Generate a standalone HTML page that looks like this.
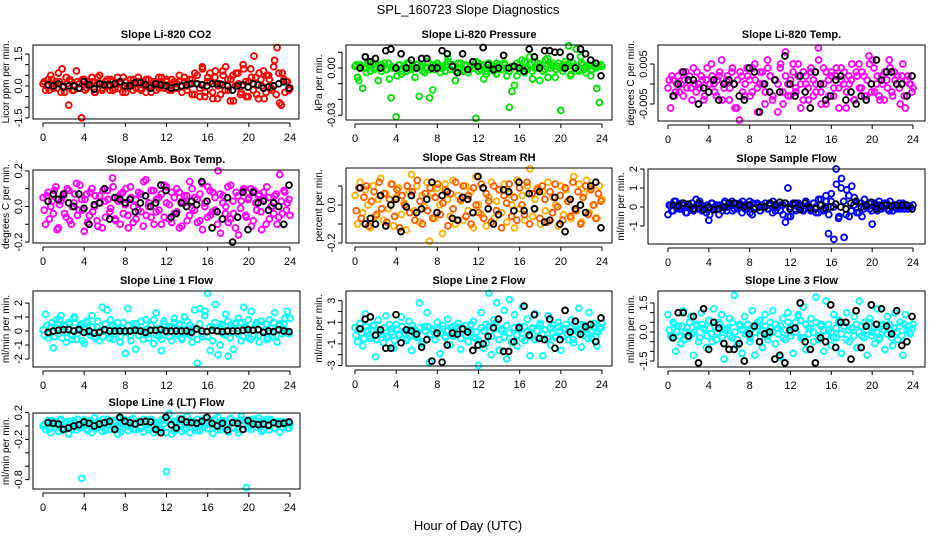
<!DOCTYPE html>
<html><head><meta charset="utf-8"><style>
html,body{margin:0;padding:0;background:#fff;}
svg{display:block;font-family:"Liberation Sans",sans-serif;}
</style></head><body>
<svg id="chart" width="936" height="540" viewBox="0 0 936 540" xmlns="http://www.w3.org/2000/svg">
<text x="468" y="14" text-anchor="middle" font-size="13">SPL_160723  Slope Diagnostics</text>
<text x="468" y="530" text-anchor="middle" font-size="13">Hour of Day (UTC)</text>
</svg>
<script>
// Panel data: A and B = coloured samples (two interleaved passes), K = black samples
const p1A=[0.1,-0.2,0.3,0.5,-0.1,0.2,0.6,-0.3,0.0,0.4,-0.9,0.2,-0.2,0.7,0.1,-1.5,0.3,-0.1,0.2,0.4,-0.3,0.1,0.5,-0.2,0.0,0.3,-0.2,0.2,-0.1,0.4,0.1,-0.3,0.2,0.0,0.3,-0.2,0.1,0.4,-0.1,0.2,-0.3,0.3,0.0,0.1,-0.2,0.4,0.2,-0.1,0.3,0.0,-0.2,0.2,0.1,0.5,-0.3,0.2,0.0,0.3,-0.4,0.6,0.1,-0.5,0.8,-0.3,0.4,0.2,-0.6,0.7,0.0,-0.4,0.5,0.9,-0.2,0.3,-0.7,0.6,0.1,-0.3,0.8,-0.5,0.2,0.4,1.4,-0.4,0.6,0.0,-0.6,0.5,0.3,-0.2,1.2,1.8,-0.8,0.6,-0.3,0.2,-0.1];
const p1B=[0.2,0.0,-0.2,0.3,0.1,-0.1,0.2,0.8,-0.3,0.1,0.3,-0.2,0.0,0.2,-0.1,0.3,-0.2,0.1,0.0,0.2,-0.3,0.4,0.1,-0.1,0.2,0.0,0.3,-0.2,0.1,-0.1,0.2,0.4,-0.3,0.0,0.1,0.3,-0.1,0.2,-0.2,0.1,0.3,0.0,-0.3,0.2,0.1,-0.1,0.4,0.0,0.2,-0.2,0.3,0.1,-0.1,0.2,0.0,0.4,-0.2,0.1,0.3,-0.4,0.5,-0.1,0.9,-0.5,0.2,0.6,-0.3,0.4,-0.6,0.1,0.7,-0.2,0.3,-0.7,0.5,0.0,0.6,-0.4,1.0,0.2,-0.5,0.8,-0.2,0.4,-0.6,0.3,0.7,-0.3,0.5,-0.1,0.9,-0.4,0.6,-0.9,0.3,0.2,-0.2];
const p1K=[0.05,0.0,0.1,-0.05,0.0,0.0,-0.1,0.2,0.05,-0.15,0.1,0.05,0.05,0.1,0.2,0.0,0.0,0.15,0.15,0.05,-0.1,0.1,0.05,0.0,-0.1,-0.05,0.0,0.05,0.1,0.1,0.05,0.0,0.1,0.1,0.05,0.0,-0.2,0.0,0.05,-0.05,0.1,0.05,-0.1,-0.05,0.0,0.1,0.2,-0.1];
const p2A=[0.001,-0.006,0.002,-0.013,0.0,0.004,-0.002,0.003,0.0,-0.008,0.002,0.001,-0.001,0.003,-0.019,0.0,-0.031,0.002,-0.004,0.001,-0.002,0.003,-0.001,0.0,0.002,-0.018,0.001,-0.003,0.0,-0.019,0.002,-0.001,0.003,0.0,0.001,-0.002,0.004,-0.001,0.002,-0.008,0.0,0.003,-0.002,0.001,-0.001,0.002,0.0,-0.032,0.003,-0.001,0.002,-0.004,0.0,0.001,-0.002,0.003,0.0,-0.001,0.002,-0.005,-0.025,-0.015,0.001,0.003,-0.002,0.0,0.004,-0.001,0.002,-0.007,0.0,0.003,0.001,-0.002,0.005,-0.006,0.002,0.001,-0.001,0.003,-0.027,0.0,0.002,0.014,-0.004,0.001,0.012,-0.002,0.003,-0.001,0.0,0.002,-0.001,0.001,-0.013,-0.022,0.001];
const p2B=[0.002,-0.008,0.001,0.0,-0.003,0.002,0.004,-0.001,0.0,0.002,-0.002,0.003,-0.001,-0.007,0.001,0.0,-0.005,0.002,-0.002,0.001,0.003,-0.001,0.0,-0.006,0.002,0.001,-0.002,0.0,0.004,-0.001,-0.014,0.002,0.001,-0.003,0.0,0.002,0.006,-0.001,0.001,-0.002,0.003,0.0,-0.001,0.002,-0.003,0.001,0.0,0.004,-0.002,0.001,-0.007,-0.002,0.003,0.0,0.001,-0.004,0.002,-0.001,0.003,0.0,-0.002,0.001,-0.011,-0.005,0.002,0.005,-0.003,0.001,0.007,-0.002,0.004,0.0,-0.008,0.002,-0.001,0.006,0.0,0.003,-0.006,0.001,0.010,-0.002,0.004,0.001,-0.005,0.003,0.0,-0.001,0.007,0.002,-0.003,0.001,-0.005,0.002,0.0,0.001,0.002];
const p2K=[0.0,0.007,0.004,0.006,0.0,0.011,0.012,0.0,0.009,0.0,0.005,0.0,0.006,0.006,0.0,0.0,0.011,0.009,0.001,-0.003,0.009,-0.001,0.004,0.001,0.013,0.002,-0.001,0.0,0.008,0.0,0.001,0.0,-0.002,0.012,0.007,0.0,0.011,0.011,0.01,0.01,0.0,0.007,0.0,0.012,0.009,0.005,0.003,-0.005];
const p3A=[-0.001,-0.006,0.001,-0.002,0.002,0.0,-0.003,0.003,0.001,-0.001,0.004,-0.002,0.0,0.002,-0.004,0.001,-0.002,0.005,0.0,-0.003,0.002,0.006,-0.001,0.001,-0.004,0.003,0.0,-0.006,-0.009,0.002,-0.003,0.004,0.001,-0.002,0.005,-0.001,0.0,0.003,-0.005,0.006,0.002,-0.004,0.001,-0.007,0.004,-0.002,0.008,0.0,-0.003,0.005,-0.001,0.002,-0.006,0.003,0.0,-0.004,0.004,0.001,-0.002,0.006,-0.005,0.0,0.003,-0.003,0.002,-0.001,0.004,-0.006,0.001,0.003,-0.002,0.0,0.005,-0.004,0.002,-0.001,0.003,-0.003,0.001,0.005,0.006,-0.002,0.002,-0.004,0.0,0.003,-0.001,0.004,-0.003,0.001,0.002,-0.005,0.005,-0.006,0.002,0.0,-0.001];
const p3B=[0.001,0.002,-0.003,0.0,-0.002,0.003,0.001,-0.001,0.002,-0.004,0.0,0.003,-0.001,0.001,-0.003,0.004,0.0,0.002,-0.002,0.001,0.003,-0.004,0.0,0.002,-0.001,0.004,-0.006,0.001,0.003,-0.002,0.0,0.002,-0.003,0.004,0.001,-0.007,0.003,0.0,-0.002,0.004,0.002,-0.003,0.001,0.0,0.005,-0.005,0.002,-0.003,0.001,0.003,-0.002,0.005,0.0,-0.004,0.002,-0.001,0.003,-0.003,0.0,0.009,-0.002,0.004,-0.005,0.001,0.003,-0.003,0.002,-0.001,0.004,0.0,-0.006,0.002,0.001,-0.004,0.003,0.005,-0.001,0.002,-0.003,0.007,-0.002,0.004,0.0,-0.003,0.002,-0.004,0.001,0.006,-0.002,0.003,0.0,-0.001,0.002,-0.003,0.001,0.0,-0.002];
const p3K=[-0.003,0.0,0.003,0.001,0.001,-0.005,-0.001,-0.002,0.001,-0.004,0.0,0.001,0.0,-0.003,-0.004,0.004,0.003,-0.007,0.0,-0.002,0.001,-0.002,0.007,0.0,-0.003,0.002,-0.002,-0.006,0.003,0.0,-0.004,-0.003,0.001,0.002,-0.004,-0.002,-0.005,-0.003,-0.004,0.0,0.006,0.001,0.003,0.003,0.0,0.0,-0.003,0.002];
const p4A=[0.05,-0.1,0.08,0.0,-0.04,0.11,-0.12,0.03,0.06,-0.06,0.09,-0.1,0.02,0.13,-0.02,0.04,-0.14,0.07,-0.05,0.1,0.0,-0.08,0.06,-0.12,0.03,0.09,-0.03,0.16,-0.07,0.05,-0.1,0.08,0.01,-0.05,0.11,-0.09,0.04,-0.02,0.07,-0.11,0.15,0.0,-0.06,0.09,-0.03,0.05,-0.1,0.12,0.02,-0.07,0.08,-0.04,0.1,-0.12,0.03,0.06,-0.08,0.14,-0.01,0.05,-0.09,0.07,-0.13,0.02,0.11,-0.05,0.08,-0.02,0.2,-0.15,0.06,0.0,-0.09,0.12,-0.04,0.08,-0.16,0.03,0.1,-0.06,0.05,-0.11,0.09,-0.02,0.07,-0.13,0.04,0.11,-0.07,0.0,0.06,-0.1,0.18,-0.04,0.08,0.02,-0.05];
const p4B=[-0.02,0.06,-0.07,0.03,0.09,-0.13,0.01,0.05,-0.04,0.1,-0.08,0.0,0.07,-0.05,0.12,-0.02,0.04,-0.09,0.08,-0.03,0.06,-0.11,0.02,0.09,-0.06,0.04,-0.01,0.11,-0.08,0.03,0.07,-0.04,0.1,-0.12,0.05,0.0,-0.07,0.08,-0.03,0.14,-0.05,0.02,0.09,-0.1,0.04,-0.02,0.07,-0.06,0.11,0.01,-0.09,0.05,-0.03,0.08,-0.11,0.02,0.06,-0.05,0.1,-0.02,0.04,-0.08,0.13,0.0,-0.06,0.09,-0.03,0.05,-0.1,0.07,0.02,-0.04,0.11,-0.07,0.03,-0.12,0.06,-0.01,0.09,-0.05,0.04,0.1,-0.08,0.02,0.06,-0.03,0.08,-0.1,0.05,0.0,-0.04,0.07,-0.06,0.03,0.09,-0.02,0.04];
const p4K=[0.03,0.07,0.04,0.07,0.02,0.0,0.07,-0.01,-0.1,0.01,0.02,0.1,-0.07,0.05,0.04,0.02,0.04,-0.03,0.02,0.06,0.0,0.02,0.12,0.09,-0.06,-0.04,0.02,0.0,0.03,0.01,0.14,0.03,-0.12,-0.03,-0.07,0.05,-0.2,-0.06,0.08,-0.13,0.08,0.02,0.03,-0.02,0.02,0.0,-0.1,0.12];
const p5A=[0.05,-0.1,0.12,-0.04,0.08,0.0,-0.12,0.1,-0.06,0.03,0.14,-0.08,0.06,-0.02,0.11,-0.11,0.04,0.09,-0.05,0.01,-0.13,0.07,0.16,-0.03,0.1,-0.09,0.05,-0.01,0.12,-0.19,0.06,-0.07,0.09,0.0,-0.15,0.11,0.03,-0.06,0.13,-0.1,0.05,0.02,-0.08,0.1,-0.03,0.07,-0.12,0.15,0.0,-0.05,0.09,-0.11,0.04,0.12,-0.07,0.02,0.08,-0.04,0.11,-0.09,0.06,0.0,-0.12,0.13,-0.02,0.05,-0.08,0.1,0.19,-0.06,0.03,0.09,-0.1,0.07,-0.03,0.12,-0.08,0.04,0.0,-0.11,0.1,-0.05,0.08,0.02,-0.07,0.15,-0.03,0.11,-0.09,0.06,0.13,-0.04,0.09,0.0,-0.07,0.1,0.03];
const p5B=[-0.03,0.09,-0.07,0.04,0.1,-0.11,0.02,0.07,-0.05,0.12,-0.02,0.06,-0.09,0.03,0.11,-0.06,0.08,-0.12,0.05,0.0,0.1,-0.04,0.07,-0.08,0.13,0.02,-0.1,0.06,-0.03,0.09,-0.07,0.04,0.11,-0.05,0.01,0.08,-0.11,0.06,-0.02,0.12,-0.08,0.03,0.1,-0.06,0.05,-0.1,0.09,0.0,-0.04,0.11,-0.07,0.06,0.02,-0.09,0.1,-0.03,0.08,-0.12,0.05,0.01,0.11,-0.06,0.04,-0.08,0.09,0.0,-0.05,0.12,-0.1,0.06,-0.02,0.08,-0.07,0.1,0.03,-0.09,0.07,-0.04,0.11,-0.01,0.05,-0.08,0.09,0.02,-0.06,0.12,-0.03,0.07,-0.1,0.04,0.1,-0.05,0.08,0.0,-0.07,0.06,0.02];
const p5K=[0.09,-0.1,-0.07,-0.1,0.05,-0.11,0.0,0.03,-0.14,-0.01,0.05,-0.04,-0.02,0.03,0.12,-0.04,0.05,0.07,-0.07,-0.08,0.04,0.03,-0.04,0.15,0.09,-0.02,-0.1,-0.05,0.08,0.07,-0.03,0.12,-0.03,0.06,-0.02,0.07,-0.09,-0.08,0.04,-0.1,-0.14,0.03,-0.02,0.0,-0.04,0.1,0.12,-0.12];
const p6A=[-0.4,0.1,-0.2,0.3,0.0,-0.1,0.2,-0.3,0.1,0.0,-0.2,0.4,-0.1,0.1,0.0,-0.3,-0.7,0.2,-0.1,0.1,-0.4,0.0,0.2,-0.2,0.1,0.3,-0.1,0.0,0.2,-0.3,0.1,-0.1,0.3,-0.4,0.0,0.2,-0.2,0.1,0.0,-0.1,0.2,-0.3,0.1,0.0,-0.2,0.1,-0.8,1.0,-0.5,0.2,-0.1,0.0,0.1,-0.2,0.3,0.0,-0.1,0.2,-0.3,0.4,0.1,-0.2,0.3,-0.4,0.7,-1.7,1.2,-0.5,1.5,-1.6,0.9,-0.5,1.1,0.5,-0.3,0.2,-0.5,0.4,0.0,-0.1,-0.9,0.2,-0.2,0.1,0.0,0.2,-0.1,0.3,-0.2,0.1,0.0,-0.1,0.2,0.1,-0.1,0.0,0.1];
const p6B=[0.1,-0.2,0.3,0.0,-0.1,0.2,0.1,-0.3,0.0,0.2,-0.1,0.1,0.3,-0.2,0.0,0.1,-0.4,0.2,0.0,-0.1,0.1,-0.2,0.3,0.0,0.1,-0.2,0.2,-0.1,0.0,0.3,-0.1,0.1,-0.3,0.2,0.0,0.1,-0.2,0.0,0.2,-0.1,0.1,0.3,-0.2,0.0,0.1,-0.4,0.2,-0.5,0.0,0.1,-0.2,0.2,0.0,-0.1,0.3,0.1,-0.2,0.2,0.0,-0.3,0.4,-0.1,0.6,-1.4,0.3,0.0,2.0,-0.6,1.0,0.3,-0.4,0.6,-0.2,0.1,0.3,-0.3,0.2,-0.1,0.0,0.2,-0.2,0.1,0.0,0.3,-0.1,0.1,0.2,-0.2,0.0,0.1,-0.1,0.2,0.0,-0.1,0.1,0.0,-0.1];
const p6K=[0.1,0.05,0.2,0.15,-0.1,0.2,-0.15,0.0,-0.15,-0.1,0.0,0.2,0.2,0.1,0.0,0.1,-0.1,0.0,0.0,0.2,0.1,0.25,0.2,-0.1,0.2,-0.15,0.2,-0.05,-0.1,0.1,-0.05,0.0,0.15,0.0,-0.1,0.2,0.3,0.0,0.1,0.25,-0.1,0.05,0.1,0.05,0.1,0.1,0.1,-0.1];
const p7A=[0.1,1.2,-0.5,0.3,-1.2,0.8,-0.2,1.1,0.4,-0.8,0.6,-0.3,1.0,-0.6,0.2,0.5,-0.9,0.7,-0.1,1.1,-0.4,0.3,-0.7,1.7,0.0,1.5,-0.5,0.4,-0.2,0.6,-0.8,0.2,-1.6,1.6,-0.3,0.5,-1.3,0.1,0.3,-0.6,0.8,-0.2,0.4,-0.9,1.3,-0.4,-1.4,0.7,-0.1,0.3,-0.7,0.9,-0.3,0.5,-0.6,1.0,-0.2,0.4,-0.8,0.1,-2.3,1.6,-0.4,1.4,2.7,-1.4,0.3,1.9,-1.7,0.5,-0.2,1.2,-1.8,0.4,-1.3,0.6,0.9,-0.7,1.7,0.2,-0.5,1.4,-0.3,0.6,-0.8,0.4,0.0,-0.6,0.8,-0.4,1.3,-0.8,0.5,-0.2,0.9,1.4,0.9];
const p7B=[-0.3,0.4,-0.2,0.6,-0.4,0.2,0.8,-0.5,0.3,-0.1,0.5,-0.6,0.9,-0.2,0.4,-0.7,0.1,0.6,-0.3,0.3,-0.5,0.7,0.0,-0.4,0.5,-0.2,0.8,-0.6,0.3,0.1,-0.4,0.6,-0.1,0.4,-0.7,0.2,0.5,-0.3,0.7,-0.2,0.1,-0.5,0.4,0.8,-0.3,0.2,-0.6,0.5,0.0,-0.4,0.3,0.6,-0.2,0.4,-0.5,0.1,0.7,-0.3,0.2,1.5,-0.6,0.5,-0.2,1.1,-0.4,0.3,-0.7,0.6,0.0,-1.0,0.4,-0.3,0.7,-0.5,0.2,0.5,-0.2,0.6,-0.4,0.3,0.8,-0.6,0.1,0.4,-0.3,0.7,-0.1,0.5,-0.5,0.2,0.6,-0.3,0.4,-0.2,0.5,0.0,-0.2];
const p7K=[-0.1,0.0,0.05,0.1,0.1,0.0,0.1,-0.1,0.0,-0.15,-0.1,0.1,0.0,0.0,0.0,0.0,0.0,0.05,0.0,-0.1,0.05,0.05,0.1,0.0,0.0,0.0,0.0,0.0,-0.1,0.15,0.0,-0.05,0.05,0.0,-0.05,0.0,0.0,0.0,0.05,0.1,0.05,0.1,-0.1,0.0,-0.05,0.1,0.0,-0.05];
const p8A=[0.5,-0.8,0.9,-1.2,1.8,0.2,-0.5,0.7,-2.2,1.2,0.1,-0.9,1.6,-0.3,0.4,-1.4,0.8,-0.2,1.5,0.0,-0.7,1.1,-1.6,0.3,-0.4,2.8,-1.0,0.6,1.9,-2.7,0.2,-0.6,1.0,-1.9,0.4,-0.3,1.3,-1.1,0.6,-0.2,0.9,-1.5,0.3,0.7,-0.8,0.1,1.1,-0.5,-3.0,1.9,-1.4,0.8,3.7,-2.0,1.2,2.8,-1.6,0.4,2.1,-2.4,3.1,-0.9,1.7,-1.2,0.6,2.4,-0.7,1.3,-2.1,0.5,1.8,-0.4,0.9,-2.1,0.3,1.6,-1.1,0.7,-0.3,1.0,-1.6,0.4,0.8,-0.6,1.2,-0.9,0.2,2.3,-1.3,0.7,0.1,1.9,-0.5,0.9,-1.2,0.4,0.9];
const p8B=[-0.2,0.4,0.0,-0.5,0.6,-0.3,0.2,0.7,-0.6,0.3,-0.1,0.5,-0.4,0.8,0.1,-0.7,0.4,-0.2,0.6,0.0,-0.5,0.3,0.7,-0.3,0.1,0.5,-0.8,0.2,0.6,-0.1,0.4,-0.6,0.3,0.0,0.7,-0.4,0.2,0.5,-0.3,0.6,0.1,-0.5,0.4,-0.2,0.3,0.8,-0.4,0.1,-0.7,0.5,0.2,-0.9,0.6,-0.3,0.4,1.0,-0.6,0.2,-0.4,0.7,0.0,-0.8,0.5,-0.2,0.3,-0.5,0.6,0.1,-0.3,0.4,-0.6,0.2,0.7,-0.1,0.3,-0.5,0.5,0.0,-0.4,0.6,0.2,-0.3,0.4,-0.1,0.5,-0.6,0.3,0.1,0.8,-0.2,0.4,-0.5,0.2,0.6,-0.3,0.1,0.5];
const p8K=[0.4,1.3,1.5,-0.2,0.3,-1.4,-1.4,1.7,-0.9,0.3,0.2,-0.1,-1.3,-0.6,-2.6,0.0,-2.7,-1.1,0.0,-0.1,0.4,0.1,-1.6,-1.1,-1.0,-0.3,0.5,1.3,-1.7,-1.7,-0.8,0.5,2.5,-0.2,1.7,-0.5,-0.6,1.3,-1.4,-0.6,2.1,0.1,1.1,-0.1,0.6,0.8,-0.8,1.4];
const p9A=[0.9,-0.2,0.5,-1.0,0.3,-0.6,1.1,0.0,-0.3,0.8,-1.2,0.4,-0.5,1.0,0.2,-0.8,0.6,-0.1,1.2,-0.4,0.5,0.9,-1.4,0.1,0.7,-0.3,1.9,-0.7,0.4,-1.1,0.8,0.0,-0.5,1.1,-1.2,0.3,0.6,-0.8,0.9,-0.2,0.5,1.1,-0.6,0.2,-1.3,0.7,-0.4,1.0,0.0,-1.1,0.5,0.9,-0.3,1.3,-0.9,0.2,0.7,-0.5,1.8,-0.2,0.4,-1.0,1.6,0.1,-0.7,0.9,-0.3,0.6,-1.1,0.3,1.0,-0.5,0.2,0.8,-0.8,1.6,-0.2,0.5,-1.2,0.7,0.0,-0.6,1.2,-0.3,0.4,-0.9,0.8,0.1,-0.7,1.0,-0.4,0.5,-1.2,0.9,0.3,-0.1,0.4];
const p9B=[0.1,-0.3,0.4,0.0,-0.2,0.3,-0.4,0.2,0.5,-0.1,0.0,0.3,-0.3,0.4,0.1,-0.2,0.2,-0.5,0.3,0.0,0.4,-0.3,0.1,0.2,-0.2,0.5,0.0,-0.4,0.3,0.1,-0.1,0.4,-0.3,0.2,0.0,0.5,-0.2,0.1,0.3,-0.4,0.2,0.0,0.4,-0.1,0.3,-0.3,0.1,0.5,-0.2,0.2,0.0,0.8,0.6,-0.3,0.4,-0.1,0.2,0.0,0.5,-0.4,0.3,0.1,-0.2,0.4,0.0,-0.3,0.2,0.5,-0.1,0.3,-0.4,0.1,0.2,-0.2,0.4,0.0,0.3,-0.3,0.1,0.5,-0.2,0.2,0.0,-0.4,0.3,0.1,-0.1,0.4,-0.3,0.2,0.0,0.3,-0.2,0.4,0.1,0.0,0.2];
const p9K=[-0.3,1.0,1.0,-0.2,0.8,-1.6,1.2,-0.9,0.5,0.2,-0.6,-0.9,-0.9,-0.6,-1.5,-0.1,0.3,-0.5,-0.1,0.0,-1.4,-1.2,-1.6,0.1,0.2,1.5,-0.5,-0.9,-1.6,-0.3,-0.5,1.4,-0.8,0.5,0.5,-1.4,1.1,-0.8,0.3,1.4,0.4,1.2,0.3,-0.1,1.1,-0.7,-0.5,0.8];
const p10A=[0.0,-0.05,0.08,-0.1,0.05,0.02,-0.08,0.1,-0.02,0.06,-0.12,0.03,0.08,-0.06,0.0,-0.78,0.09,-0.04,0.05,-0.1,0.12,-0.02,0.06,-0.08,0.03,0.1,-0.05,0.01,0.08,-0.12,0.04,-0.03,0.09,-0.07,0.02,0.11,-0.05,0.07,0.0,-0.09,0.06,-0.03,0.1,-0.1,0.04,0.02,-0.06,0.09,-0.68,0.18,-0.12,0.07,-0.04,0.11,-0.08,0.03,0.14,-0.1,0.06,-0.02,0.1,-0.07,0.05,0.12,-0.04,0.08,-0.11,0.02,0.13,-0.06,0.07,0.0,-0.09,0.11,-0.03,0.06,-0.1,0.14,0.02,-0.92,0.09,-0.05,0.07,-0.02,0.12,-0.08,0.04,0.1,-0.06,0.08,-0.03,0.05,-0.09,0.06,0.02,-0.04,0.03];
const p10B=[0.02,0.06,-0.04,0.08,-0.02,0.05,0.09,-0.06,0.03,0.0,0.07,-0.05,0.04,0.1,-0.03,0.06,0.01,-0.07,0.08,0.03,-0.04,0.07,0.0,0.1,-0.06,0.04,0.08,-0.02,0.05,0.11,-0.08,0.03,0.06,-0.01,0.09,-0.05,0.04,0.07,-0.03,0.1,0.02,-0.06,0.08,0.0,0.05,-0.04,0.09,0.03,-0.1,0.07,0.01,-0.08,0.06,0.02,0.1,-0.05,0.04,0.08,-0.02,0.06,-0.07,0.03,0.09,0.0,-0.04,0.07,0.02,0.1,-0.06,0.05,0.08,-0.03,0.04,0.11,-0.01,0.06,-0.05,0.09,0.02,0.07,-0.04,0.05,0.1,-0.02,0.03,0.08,-0.06,0.06,0.0,0.09,-0.03,0.05,0.07,-0.02,0.04,0.06,-0.03];
const p10K=[0.05,0.04,0.03,-0.05,-0.03,0.0,0.02,0.06,0.04,0.0,0.03,0.05,0.07,-0.05,0.13,0.07,0.05,0.03,0.06,0.07,0.06,-0.05,-0.1,0.13,0.02,-0.03,0.1,0.06,0.05,0.04,0.07,0.13,0.04,0.0,0.04,-0.06,0.05,0.04,-0.05,0.08,0.03,0.02,0.03,0.01,0.05,0.03,0.04,0.06];

const xTicks=[0,4,8,12,16,20,24];
const titles=["Slope Li-820 CO2","Slope Li-820 Pressure","Slope Li-820 Temp.","Slope Amb. Box Temp.","Slope Gas Stream RH","Slope Sample Flow","Slope Line 1 Flow","Slope Line 2 Flow","Slope Line 3 Flow","Slope Line 4 (LT) Flow"];
const yTitles=["Licor ppm per min.","kPa per min.","degrees C per min.","degrees C per min.","percent per min.","ml/min per min.","ml/min per min.","ml/min per min.","ml/min per min.","ml/min per min."];
const yLims=[[-1.55,1.92],[-0.0331,0.0146],[-0.00925,0.00975],[-0.205,0.205],[-0.2,0.195],[-1.95,2.0],[-2.57,2.86],[-3.05,3.9],[-1.81,2.12],[-0.94,0.194]];
const yTickVals=[[-1.5,-1,-0.5,0,0.5,1,1.5],[-0.03,-0.02,-0.01,0,0.01],[-0.005,0,0.005],[-0.2,-0.1,0,0.1,0.2],[-0.2,-0.1,0,0.1],[-1,0,1,2],[-2,-1,0,1,2],[-3,-2,-1,0,1,2,3],[-1.5,-1,-0.5,0,0.5,1,1.5],[-0.8,-0.6,-0.4,-0.2,0,0.2]];
const yTickLabels=[[["-1.5",-1.5],["0.0",0],["1.5",1.5]],[["-0.03",-0.03],["0.00",0]],[["-0.005",-0.005],["0.005",0.005]],[["-0.2",-0.2],["0.0",0],["0.2",0.2]],[["-0.2",-0.2],["0.0",0]],[["-1",-1],["0",0],["1",1],["2",2]],[["-2",-2],["-1",-1],["0",0],["1",1],["2",2]],[["-3",-3],["-1",-1],["1",1],["3",3]],[["-1.5",-1.5],["0.0",0],["1.5",1.5]],[["-0.8",-0.8],["-0.2",-0.2],["0.2",0.2]]];
const seriesA=[p1A,p2A,p3A,p4A,p5A,p6A,p7A,p8A,p9A,p10A];
const seriesB=[p1B,p2B,p3B,p4B,p5B,p6B,p7B,p8B,p9B,p10B];
const seriesK=[p1K,p2K,p3K,p4K,p5K,p6K,p7K,p8K,p9K,p10K];
const colorsA=["#ff0000","#00dd00","#ff00ff","#ff00ff","#ffb000","#0000ff","#00ffff","#00ffff","#00ffff","#00ffff"];
const colorsB=["#ff0000","#00ee00","#ff00ff","#ff00ff","#ff5a00","#0000ff","#00ffff","#00ffff","#00ffff","#00ffff"];

// layout (pixel geometry)
const boxes=[
 {l:33,r:299,t:45,b:119,x0:43,x1:290},{l:346,r:612,t:45,b:120,x0:355,x1:602},{l:658,r:925,t:45,b:121,x0:668,x1:913},
 {l:33,r:299,t:170,b:243,x0:43,x1:290},{l:346,r:612,t:168,b:243,x0:355,x1:602},{l:648,r:925,t:169,b:244,x0:668,x1:913},
 {l:33,r:300,t:291,b:367,x0:43,x1:290},{l:346,r:612,t:291,b:366,x0:355,x1:602},{l:658,r:925,t:291,b:367,x0:668,x1:913},
 {l:33,r:300,t:413,b:489,x0:43,x1:290}];

const NS="http://www.w3.org/2000/svg";
const svg=document.getElementById('chart');
function mk(tag,attrs,parent){const e=document.createElementNS(NS,tag);for(const k in attrs)e.setAttribute(k,attrs[k]);(parent||svg).appendChild(e);return e;}

titles.forEach((title,i)=>{
  const B=boxes[i];
  const g=mk('g',{});
  
  
  const xs=h=>B.x0+(B.x1-B.x0)*h/24;
  const [ymin,ymax]=yLims[i];
  const ys=v=>B.b-(B.b-B.t)*(v-ymin)/(ymax-ymin);
  const t=mk('text',{x:(B.l+B.r)/2,y:B.t-7,'text-anchor':'middle','font-size':'11','font-weight':'bold'},g);
  t.textContent=title;
  
  
  const drawSeries=(vals,start,end,color,name)=>{
    const sg=mk('g',{fill:'none',stroke:color,'stroke-width':'1.9'},g);
    
    
    const n=vals.length;
    vals.forEach((v,k)=>{
      const h=start+(end-start)*k/(n-1);
      const c=mk('circle',{cx:xs(h).toFixed(1),cy:ys(v).toFixed(1),r:'2.9'},sg);
      
      
    });
  };
  drawSeries(seriesA[i],0,24,colorsA[i],'series-all-points');
  drawSeries(seriesB[i],0.12,23.9,colorsB[i],'series-all-points-b');
  drawSeries(seriesK[i],0.5,23.9,'#000000','series-hourly-points');
  const box=mk('rect',{x:B.l,y:B.t,width:B.r-B.l,height:B.b-B.t,fill:'none',stroke:'#000','stroke-width':'1'},g);
  
  
  const xa=mk('g',{},g);
  
  
  mk('line',{x1:xs(0),x2:xs(24),y1:B.b+4,y2:B.b+4,stroke:'#000'},xa);
  xTicks.forEach(h=>{
    mk('line',{x1:xs(h),x2:xs(h),y1:B.b+4,y2:B.b+8,stroke:'#000'},xa);
    const tl=mk('text',{x:xs(h),y:B.b+22,'text-anchor':'middle','font-size':'11'},xa);
    tl.textContent=String(h);
    
    
  });
  const ya=mk('g',{},g);
  
  
  const tv=yTickVals[i];
  mk('line',{x1:B.l-4,x2:B.l-4,y1:ys(Math.min(...tv)),y2:ys(Math.max(...tv)),stroke:'#000'},ya);
  tv.forEach(v=>mk('line',{x1:B.l-8,x2:B.l-4,y1:ys(v),y2:ys(v),stroke:'#000'},ya));
  yTickLabels[i].forEach(([lab,v])=>{
    const x=B.l-11, y=ys(v);
    const tl=mk('text',{x:x,y:y,'text-anchor':'middle','font-size':'11',transform:`rotate(-90 ${x} ${y})`},ya);
    tl.textContent=lab;
    
    
  });
  const yx=B.l-24, yy=(B.t+B.b)/2;
  const yt=mk('text',{x:yx,y:yy,'text-anchor':'middle','font-size':'10',transform:`rotate(-90 ${yx} ${yy})`},g);
  yt.textContent=yTitles[i];
  
  
});
</script>
</body></html>
